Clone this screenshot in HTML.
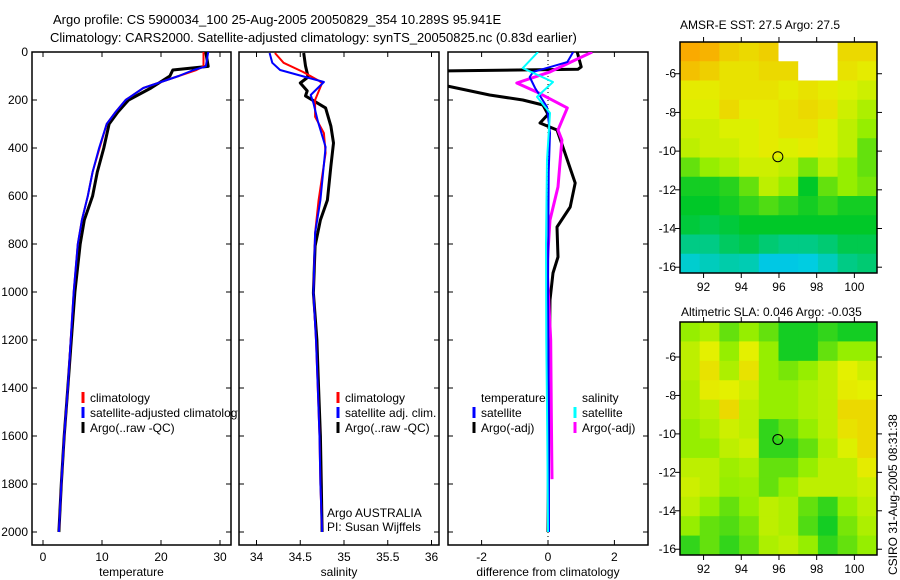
<!DOCTYPE html>
<html><head><meta charset="utf-8">
<style>
html,body{margin:0;padding:0;background:#fff;}
svg{display:block;font-family:"Liberation Sans",sans-serif;}
text{font-size:12px;fill:#000;}
</style></head>
<body>
<svg id="fig" width="900" height="580" viewBox="0 0 900 580" xmlns="http://www.w3.org/2000/svg">
<text x="53" y="24" style="font-size:13px">Argo profile: CS 5900034_100 25-Aug-2005 20050829_354 10.289S 95.941E</text>
<text x="50" y="42" style="font-size:13px">Climatology: CARS2000. Satellite-adjusted climatology: synTS_20050825.nc (0.83d earlier)</text>
<text x="680" y="29" style="font-size:12px">AMSR-E SST: 27.5 Argo: 27.5</text>
<text x="681" y="316" style="font-size:12px">Altimetric SLA: 0.046 Argo: -0.035</text>
<text transform="translate(897,575) rotate(-90)" style="font-size:12px">CSIRO 31-Aug-2005 08:31:38</text>
<g id="g"></g>
</svg>
<script>
// ---- data ----
const depthT = [0,60,75,100,150,200,250,300,400,500,600,700,800,1000,1200,1400,1600,1800,2000];
const tempClim = [27.2,27.2,26,23,17,14,12.3,10.8,9.6,8.4,7.6,6.6,5.9,5.2,4.7,4.2,3.6,3.1,2.7];
const tempSat  = [28.0,27.6,25.5,23,17,14,12.3,10.8,9.5,8.4,7.6,6.6,5.9,5.2,4.7,4.2,3.6,3.1,2.7];
const tempArgo = [27.6,28.0,22,21.5,18.3,14.5,12.7,11.2,10.3,9.2,8.4,7.0,6.3,5.4,4.8,4.2,3.6,3.1,2.7];
const depthS = [4,45,83,117,129,200,270,338,421,617,754,1004,1200,1400,1600,1800,2000];
const salClim = [34.21,34.31,34.53,34.70,34.75,34.67,34.67,34.77,34.79,34.71,34.67,34.65,34.68,34.70,34.72,34.73,34.75];
const depthS2 = [4,45,75,104,125,179,212,288,396,617,754,1004,1200,1400,1600,1800,2000];
const salSat = [34.15,34.18,34.27,34.56,34.77,34.62,34.65,34.70,34.79,34.73,34.67,34.65,34.68,34.70,34.72,34.73,34.75];
const depthS3 = [4,58,104,129,162,183,233,309,379,475,617,700,808,1004,1200,1400,1600,1800,2000];
const salArgo = [34.54,34.56,34.59,34.50,34.58,34.56,34.79,34.85,34.88,34.85,34.81,34.73,34.67,34.65,34.69,34.71,34.73,34.74,34.75];
const depthDT = [0,42,83,104,150,229,338,500,1000,1500,2000];
const dTempSat = [0.76,0.58,-0.45,-0.55,-0.39,-0.03,0.06,0.02,0.0,0.02,0.03];
const depthDA = [0,62,72,80,140,179,200,221,260,296,325,396,546,646,729,854,921,1033,1300,1600,2000];
const dTempArgo = [0.88,1.0,0.9,-4,-3.1,-1.76,-0.76,-0.15,0.0,-0.24,0.27,0.45,0.82,0.67,0.27,0.3,0.15,0.06,0.04,0.02,0.0];
const depthDS = [0,67,125,187,254,450,800,1200,1600,2000];
const dSalSat = [-0.3,-0.76,0.15,-0.33,0.06,-0.03,-0.06,-0.05,-0.02,0.0];
const depthDM = [0,83,129,167,233,325,367,562,700,896,1200,1500,1780];
const dSalArgo = [1.33,0.06,-0.94,-0.33,0.58,0.3,0.42,0.3,0.06,-0.03,0.08,0.1,0.12];
const depthTicks = [0,200,400,600,800,1000,1200,1400,1600,1800,2000];
const tempTicks = [0,10,20,30];
const salTicks = [34,34.5,35,35.5,36];
const diffTicks = [-2,0,2];
const lonTicks = [92,94,96,98,100];
const latTicks = [-6,-8,-10,-12,-14,-16];
const sstGrid = [
[0.8,0.78,0.72,0.7,0.72,-1,-1,-1,0.7,0.7],
[0.75,0.72,0.68,0.68,0.7,0.7,-1,-1,0.68,0.66],
[0.66,0.66,0.68,0.68,0.68,0.66,0.68,0.66,0.64,0.62],
[0.64,0.64,0.7,0.66,0.66,0.68,0.7,0.68,0.62,0.58],
[0.62,0.62,0.64,0.64,0.66,0.68,0.68,0.64,0.6,0.55],
[0.6,0.62,0.62,0.64,0.66,0.64,0.66,0.64,0.6,0.5],
[0.5,0.55,0.58,0.62,0.62,0.6,0.52,0.6,0.55,0.5],
[0.42,0.42,0.44,0.5,0.6,0.55,0.4,0.5,0.55,0.52],
[0.4,0.4,0.42,0.45,0.48,0.45,0.42,0.45,0.42,0.42],
[0.38,0.36,0.38,0.4,0.4,0.4,0.4,0.4,0.4,0.4],
[0.3,0.3,0.34,0.36,0.32,0.3,0.3,0.32,0.36,0.36],
[0.22,0.24,0.26,0.25,0.18,0.18,0.2,0.24,0.3,0.32]];
const slaGrid = [
[0.55,0.58,0.5,0.55,0.5,0.42,0.42,0.45,0.42,0.42],
[0.6,0.65,0.55,0.65,0.55,0.42,0.42,0.5,0.55,0.55],
[0.6,0.68,0.58,0.68,0.55,0.52,0.55,0.6,0.65,0.62],
[0.58,0.66,0.65,0.62,0.55,0.55,0.58,0.6,0.66,0.65],
[0.58,0.6,0.7,0.6,0.55,0.55,0.58,0.6,0.7,0.7],
[0.55,0.58,0.62,0.6,0.45,0.5,0.55,0.6,0.68,0.7],
[0.55,0.55,0.6,0.62,0.45,0.45,0.5,0.58,0.64,0.7],
[0.6,0.6,0.56,0.58,0.5,0.5,0.55,0.6,0.6,0.66],
[0.62,0.6,0.55,0.56,0.5,0.55,0.6,0.6,0.6,0.62],
[0.6,0.55,0.5,0.55,0.6,0.58,0.5,0.45,0.55,0.6],
[0.55,0.5,0.48,0.52,0.6,0.58,0.48,0.42,0.52,0.58],
[0.45,0.5,0.45,0.5,0.58,0.6,0.55,0.45,0.5,0.55]];
const floatLon = 95.941, floatLat = -10.289;

// ---- helpers ----
const NS = "http://www.w3.org/2000/svg";
const G = document.getElementById('g');
function mk(tag, attrs, parent){const e=document.createElementNS(NS,tag);for(const k in attrs)e.setAttribute(k,attrs[k]);(parent||G).appendChild(e);return e;}
const yD = d => 52 + d*0.24;
function panel(x0,x1,xs,ticks,label,name,fmt){
  const r=mk('rect',{x:x0,y:52,width:x1-x0,height:493,fill:'none',stroke:'#000','stroke-width':1.5});
  
  
  ticks.forEach(t=>{const x=xs(t);
    mk('line',{x1:x,x2:x,y1:545,y2:540,stroke:'#000'});mk('line',{x1:x,x2:x,y1:52,y2:57,stroke:'#000'});
    const tx=mk('text',{x:x,y:561,'text-anchor':'middle'});tx.textContent=fmt?fmt(t):t;
    
    });
  depthTicks.forEach(d=>{const y=yD(d);
    mk('line',{x1:x0,x2:x0+5,y1:y,y2:y,stroke:'#000'});mk('line',{x1:x1,x2:x1-5,y1:y,y2:y,stroke:'#000'});});
  const lt=mk('text',{x:(x0+x1)/2,y:576,'text-anchor':'middle'});lt.textContent=label;
  
  
}
function line(xs,vals,depths,color,w,name,clip){
  const pts=vals.map((v,i)=>xs(v).toFixed(1)+','+yD(depths[i]).toFixed(1)).join(' ');
  const p=mk('polyline',{points:pts,fill:'none',stroke:color,'stroke-width':w,'stroke-linejoin':'round'});
  if(clip)p.setAttribute('clip-path','url(#'+clip+')');
  
  
}
function legend(x,y,color,txt,name,clip){
  mk('line',{x1:x,x2:x,y1:y-10,y2:y+1,stroke:color,'stroke-width':3});
  const t=mk('text',{x:x+7,y:y});t.textContent=txt;
  if(clip)t.setAttribute('clip-path','url(#'+clip+')');
  
  
}
const defs=mk('defs',{});
[['c1',32,199],['c2',239,200],['c3',448,200],['cl',32,206]].forEach(c=>{const cp=mk('clipPath',{id:c[0]},defs);mk('rect',{x:c[1],y:52,width:c[2],height:493},cp);});

// depth labels
depthTicks.forEach(d=>{const t=mk('text',{x:28,y:yD(d)+4,'text-anchor':'end'});t.textContent=d;
  
  });

// panel 1 temperature
const xT = v => 43 + v*5.9;
panel(32,231,xT,tempTicks,'temperature','temperature-panel');
line(xT,tempArgo,depthT,'#000',3,'temp-argo-line','c1');
line(xT,tempClim,depthT,'#f00',2,'temp-climatology-line','c1');
line(xT,tempSat,depthT,'#00f',2,'temp-satellite-line','c1');
legend(83,402,'#f00','climatology','legend-climatology','cl');
legend(83,417,'#00f','satellite-adjusted climatology','legend-satellite-adjusted','cl');
legend(83,432,'#000','Argo(..raw -QC)','legend-argo','cl');

// panel 2 salinity
const xS = v => 256.5 + (v-34)*87.5;
panel(239,439,xS,salTicks,'salinity','salinity-panel');
line(xS,salArgo,depthS3,'#000',3,'sal-argo-line','c2');
line(xS,salClim,depthS,'#f00',2,'sal-climatology-line','c2');
line(xS,salSat,depthS2,'#00f',2,'sal-satellite-line','c2');
legend(338,402,'#f00','climatology','legend-sal-climatology');
legend(338,417,'#00f','satellite adj. clim.','legend-sal-satellite');
legend(338,432,'#000','Argo(..raw -QC)','legend-sal-argo');
const a1=mk('text',{x:327,y:517});a1.textContent='Argo AUSTRALIA';


const a2=mk('text',{x:327,y:531});a2.textContent='PI: Susan Wijffels';



// panel 3 differences
const xDf = v => 548 + v*33.2;
panel(448,648,xDf,diffTicks,'difference from climatology','difference-panel');
mk('line',{x1:548,x2:548,y1:52,y2:545,stroke:'#000','stroke-dasharray':'1,3'});
line(xDf,dTempArgo,depthDA,'#000',3,'diff-temp-argo-line','c3');
line(xDf,dSalArgo,depthDM,'#f0f',3,'diff-sal-argo-line','c3');
line(xDf,dTempSat,depthDT,'#00f',2,'diff-temp-satellite-line','c3');
line(xDf,dSalSat,depthDS,'#0ff',2,'diff-sal-satellite-line','c3');
const th=mk('text',{x:481,y:402});th.textContent='temperature';


const sh=mk('text',{x:582,y:402});sh.textContent='salinity';


legend(474,417,'#00f','satellite','legend-diff-temp-satellite');
legend(474,432,'#000','Argo(-adj)','legend-diff-temp-argo');
legend(575,417,'#0ff','satellite','legend-diff-sal-satellite');
legend(575,432,'#f0f','Argo(-adj)','legend-diff-sal-argo');

// ---- maps ----
const stops=[[0,[0,150,255]],[0.2,[0,205,225]],[0.4,[0,200,40]],[0.55,[150,238,0]],[0.65,[228,240,0]],[0.8,[250,170,0]],[1,[200,0,0]]];
function cmap(v){for(let i=1;i<stops.length;i++){if(v<=stops[i][0]){const a=stops[i-1],b=stops[i];const f=(v-a[0])/(b[0]-a[0]);
  return 'rgb('+a[1].map((c,k)=>Math.round(c+(b[1][k]-c)*f)).join(',')+')';}}return 'rgb(200,0,0)';}
function mapPanel(y0,y1,latTop,latBot,grid,name){
  const x0=680,x1=877,lonL=90.75,lonR=101.2;
  const xL=l=>x0+(l-lonL)/(lonR-lonL)*(x1-x0);
  const yL=l=>y0+(latTop-l)/(latTop-latBot)*(y1-y0);
  const rows=grid.length,cols=grid[0].length;
  const cw=(x1-x0)/cols,ch=(y1-y0)/rows;
  grid.forEach((row,r)=>row.forEach((v,c)=>{
    const e=mk('rect',{x:x0+c*cw,y:y0+r*ch,width:cw+0.5,height:ch+0.5,fill:v<0?'#fff':cmap(v)});
    
    }));
  const f=mk('rect',{x:x0,y:y0,width:x1-x0,height:y1-y0,fill:'none',stroke:'#000','stroke-width':1.5});
  
  
  lonTicks.forEach(l=>{const x=xL(l);mk('line',{x1:x,x2:x,y1:y1,y2:y1+5,stroke:'#000'});mk('line',{x1:x,x2:x,y1:y0,y2:y0-5,stroke:'#000'});
    const t=mk('text',{x:x,y:y1+18,'text-anchor':'middle'});t.textContent=l;
    
    });
  latTicks.forEach(l=>{const y=yL(l);mk('line',{x1:x0,x2:x0-5,y1:y,y2:y,stroke:'#000'});mk('line',{x1:x1,x2:x1+5,y1:y,y2:y,stroke:'#000'});
    const t=mk('text',{x:x0-4,y:y+4,'text-anchor':'end'});t.textContent=l;
    
    });
  const c=mk('circle',{cx:xL(floatLon),cy:yL(floatLat),r:5,fill:'none',stroke:'#000'});
  
  
}
mapPanel(42,273,-4.36,-16.3,sstGrid,'sst-map');
mapPanel(322,555,-4.18,-16.3,slaGrid,'sla-map');
</script>
</body></html>
